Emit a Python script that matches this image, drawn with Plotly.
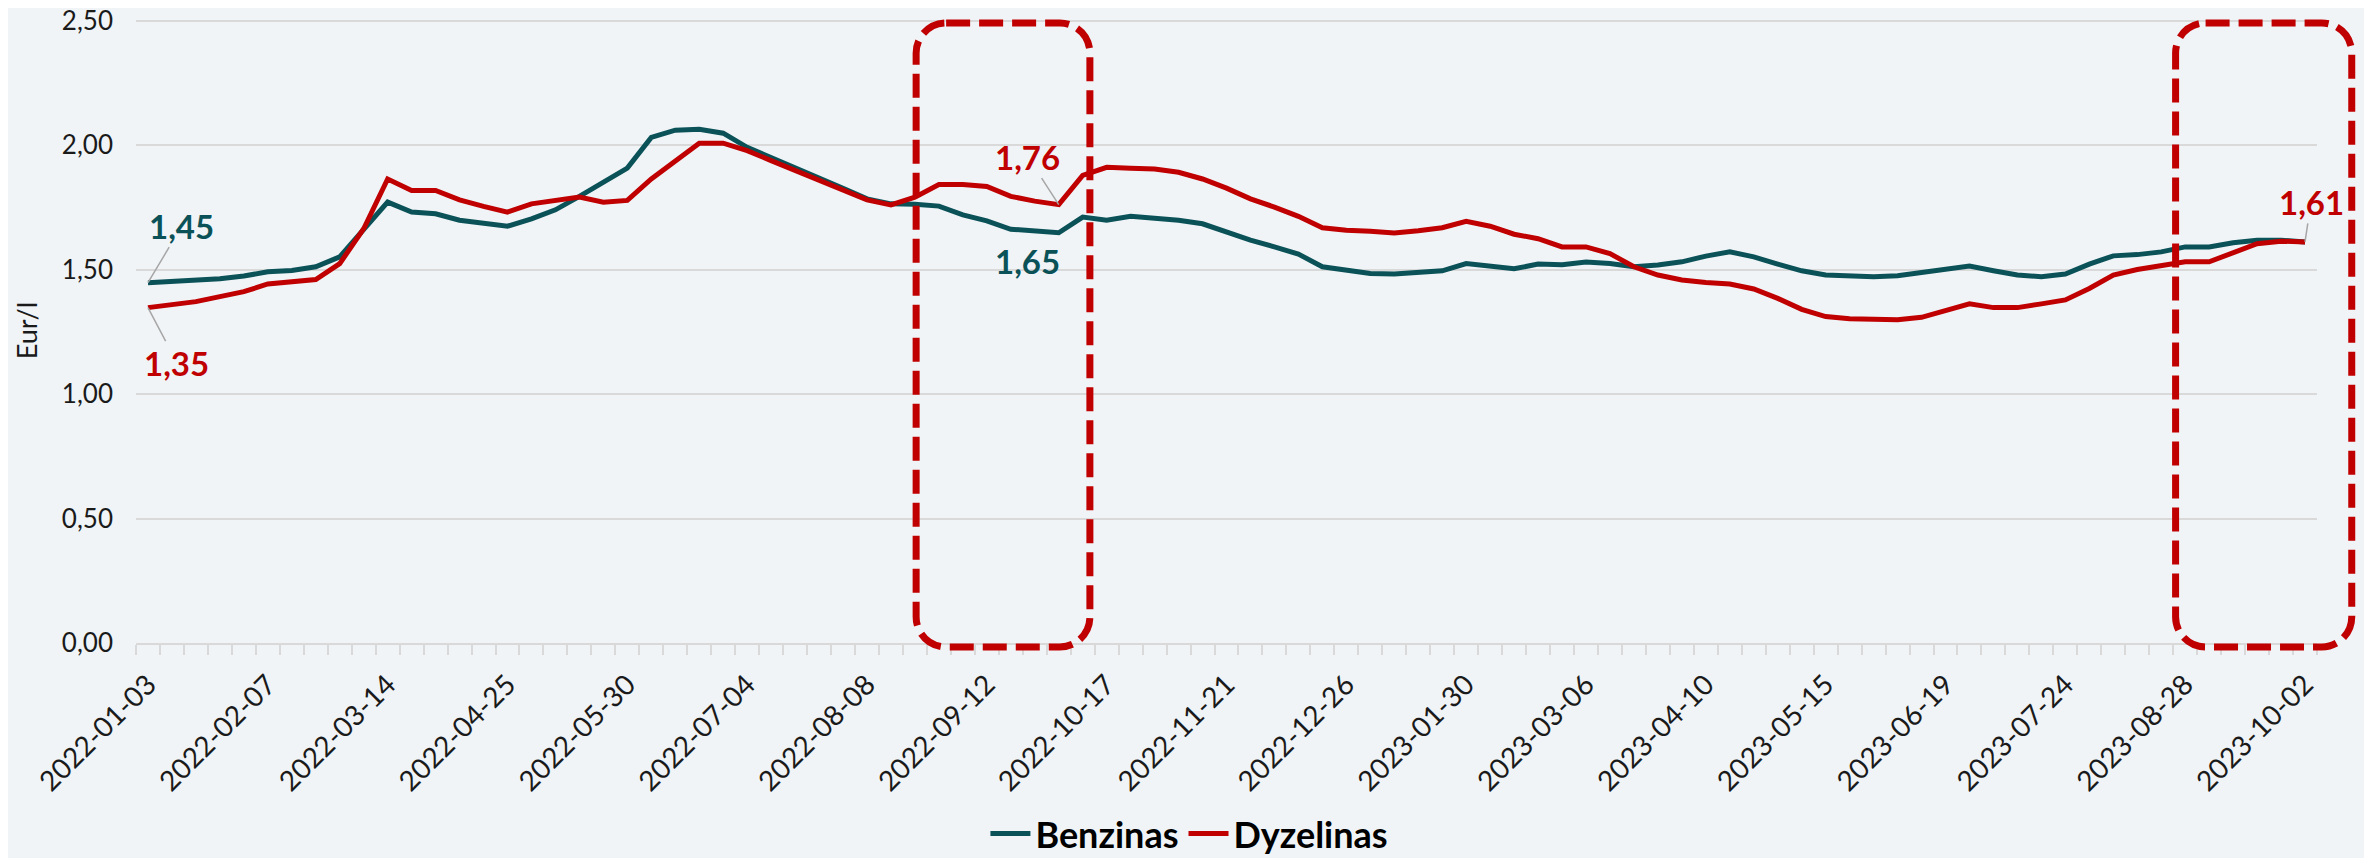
import plotly.graph_objects as go
from datetime import date, timedelta

# ---------------- data ----------------
# weekly observations (the week of 2022-04-18 is absent from the source series)
_weeks = [date(2022, 1, 3) + timedelta(weeks=i) for i in range(92)]
dates = [d.isoformat() for d in _weeks if d != date(2022, 4, 18)]

benzinas = [
    1.448, 1.452, 1.456, 1.464, 1.475, 1.492, 1.497, 1.512, 1.552, 1.659,
    1.772, 1.732, 1.725, 1.699, 1.685, 1.675, 1.705, 1.741, 1.795, 1.852,
    1.909, 2.032, 2.061, 2.065, 2.049, 1.992, 1.952, 1.912, 1.872, 1.828,
    1.785, 1.765, 1.763, 1.756, 1.721, 1.697, 1.663, 1.656, 1.649, 1.712,
    1.699, 1.715, 1.708, 1.699, 1.685, 1.652, 1.619, 1.592, 1.563, 1.512,
    1.496, 1.485, 1.483, 1.487, 1.496, 1.525, 1.512, 1.504, 1.523, 1.520,
    1.531, 1.525, 1.512, 1.519, 1.532, 1.555, 1.572, 1.552, 1.523, 1.496,
    1.479, 1.476, 1.472, 1.476, 1.488, 1.503, 1.515, 1.496, 1.479, 1.472,
    1.483, 1.523, 1.556, 1.561, 1.572, 1.592, 1.592, 1.609, 1.619, 1.619,
    1.612,
]

dyzelinas = [
    1.348, 1.359, 1.372, 1.392, 1.412, 1.443, 1.451, 1.461, 1.525, 1.665,
    1.865, 1.819, 1.819, 1.781, 1.755, 1.732, 1.765, 1.776, 1.792, 1.772,
    1.779, 1.865, 1.939, 2.009, 2.009, 1.979, 1.939, 1.899, 1.861, 1.821,
    1.781, 1.761, 1.792, 1.843, 1.843, 1.835, 1.795, 1.776, 1.762, 1.879,
    1.912, 1.908, 1.905, 1.892, 1.865, 1.828, 1.785, 1.752, 1.715, 1.669,
    1.659, 1.655, 1.648, 1.657, 1.669, 1.695, 1.675, 1.643, 1.625, 1.592,
    1.592, 1.565, 1.512, 1.479, 1.459, 1.449, 1.443, 1.423, 1.385, 1.341,
    1.312, 1.303, 1.299, 1.299, 1.309, 1.335, 1.363, 1.348, 1.348, 1.363,
    1.379, 1.425, 1.479, 1.501, 1.516, 1.532, 1.532, 1.569, 1.605, 1.615,
    1.612,
]

series_names = ["Benzinas", "Dyzelinas"]
tick_every = 5

# ---------------- style ----------------
TEAL = "#0B5258"
RED = "#C00000"
BG = "#F0F4F7"
GRID = "#D9D9D9"
FONT = "Lato"
TXT = "#1A1A1A"

# the page body keeps an 8px margin, so the figure is drawn 8px smaller
W_FIG, H_FIG = 2364, 850
Y_MAX = 2.512            # a hair above 2.50 so the top gridline is drawn
ML, MR, MT, MB = 128, 55, 10, 215
PW = W_FIG - ML - MR
PH = H_FIG - MT - MB
NCAT = len(dates)

fig = go.Figure()
fig.add_trace(go.Scatter(x=dates, y=benzinas, mode="lines", name=series_names[0],
                         line=dict(color=TEAL, width=5)))
fig.add_trace(go.Scatter(x=dates, y=dyzelinas, mode="lines", name=series_names[1],
                         line=dict(color=RED, width=5)))

# ---------------- data labels ----------------
def lbl(v):
    return f"{v:.2f}".replace(".", ",")

label_specs = [
    # (series, index, colour, ax, ay, leader line)
    (benzinas, 0, TEAL, 34, -57, True),
    (dyzelinas, 0, RED, 29, 55, True),
    (dyzelinas, 38, RED, -31, -48, True),
    (benzinas, 38, TEAL, -31, 28, False),
    (dyzelinas, 90, RED, 6, -40, True),
]
annotations = []
for ser, idx, col, ax, ay, leader in label_specs:
    a = dict(x=dates[idx], y=ser[idx], xref="x", yref="y", text=lbl(ser[idx]),
             font=dict(family=FONT, size=33, color=col, weight="bold"))
    if leader:
        a.update(showarrow=True, arrowhead=0, arrowwidth=1.5, arrowcolor="#A6A6A6",
                 ax=ax, ay=ay, axref="pixel", ayref="pixel", standoff=0)
    else:
        a.update(showarrow=False, xshift=ax, yshift=-ay)
    annotations.append(a)

# ---------------- highlight boxes (rounded, dashed) ----------------
def cat_to_paper(c):
    return (c + 0.5) / NCAT

def val_to_paper(v):
    return v / Y_MAX

def rounded_rect(x0, x1, y0, y1, r_px):
    rx = r_px / PW
    ry = r_px / PH
    k = 0.5523
    p = [
        f"M {x0 + rx},{y1}",
        f"L {x1 - rx},{y1}",
        f"C {x1 - rx + k * rx},{y1} {x1},{y1 - ry + k * ry} {x1},{y1 - ry}",
        f"L {x1},{y0 + ry}",
        f"C {x1},{y0 + ry - k * ry} {x1 - rx + k * rx},{y0} {x1 - rx},{y0}",
        f"L {x0 + rx},{y0}",
        f"C {x0 + rx - k * rx},{y0} {x0},{y0 + ry - k * ry} {x0},{y0 + ry}",
        f"L {x0},{y1 - ry}",
        f"C {x0},{y1 - ry + k * ry} {x0 + rx - k * rx},{y1} {x0 + rx},{y1}",
        "Z",
    ]
    return " ".join(p)

boxes = [(32.05, 39.3), (84.6, 91.95)]
shapes = []
for c0, c1 in boxes:
    shapes.append(dict(
        type="path", xref="paper", yref="paper", layer="above",
        path=rounded_rect(cat_to_paper(c0), cat_to_paper(c1),
                          val_to_paper(-0.016), val_to_paper(2.492), 30),
        line=dict(color=RED, width=7, dash="24px,9px"),
    ))

fig.update_layout(
    width=W_FIG, height=H_FIG,
    margin=dict(l=ML, r=MR, t=MT, b=MB, autoexpand=False),
    paper_bgcolor=BG, plot_bgcolor=BG,
    separators=", ",
    font=dict(family=FONT, color=TXT),
    showlegend=True,
    legend=dict(orientation="h", x=0.483, xanchor="center", y=-0.305, yanchor="middle",
                font=dict(family=FONT, size=36, color="#000000", weight="bold"),
                bgcolor="rgba(0,0,0,0)", itemwidth=40),
    annotations=annotations,
    shapes=shapes,
    xaxis=dict(
        type="category", range=[-0.5, NCAT - 0.5],
        tickmode="array", tickvals=dates,
        ticktext=[d if i % tick_every == 0 else "" for i, d in enumerate(dates)],
        tickangle=-45, tickson="boundaries", ticks="outside", ticklen=10,
        tickwidth=2, tickcolor=GRID, showline=True, linecolor=GRID, linewidth=2,
        showgrid=False, zeroline=False, ticklabelstandoff=12,
        tickfont=dict(family=FONT, size=28, color=TXT), automargin=False,
    ),
    yaxis=dict(
        range=[0, Y_MAX], tickmode="linear", tick0=0, dtick=0.5, tickformat=".2f",
        showgrid=True, gridcolor=GRID, gridwidth=2, zeroline=False, showline=False,
        ticks="", ticklabelstandoff=22, ticklabeloverflow="allow",
        tickfont=dict(family=FONT, size=26, color=TXT),
        title=dict(text="Eur/l", font=dict(family=FONT, size=27, color=TXT), standoff=16),
        automargin=False,
    ),
)

fig.write_html("out.html")
